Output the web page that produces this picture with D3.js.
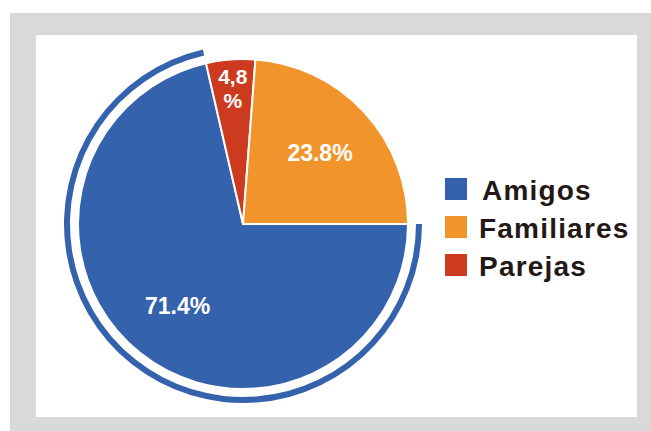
<!DOCTYPE html>
<html>
<head>
<meta charset="utf-8">
<script src="https://cdn.jsdelivr.net/npm/d3@7"></script>
<style>
    body { margin: 0; background: #fff; }
    text { font-family: "Liberation Sans", Arial, sans-serif; }
</style>
</head>
<body>
<div id="chart"></div>
<script>
    const categories = ['Amigos', 'Familiares', 'Parejas'];
    const values = [71.4, 23.8, 4.8];
    const labels = ['71.4%', '23.8%', '4,8\n%'];
    const colors = ['#3462ad', '#f1942c', '#cc3b20'];
    // order the slices go round the pie (clockwise from 3 o'clock)
    const pieOrder = [0, 2, 1];

    const width = 651, height = 431;

    const svg = d3.select('#chart')
        .append('svg')
        .attr('width', width)
        .attr('height', height);

    // grey frame and white panel
    svg.append('rect')
        .attr('x', 10).attr('y', 13)
        .attr('width', width - 10).attr('height', height - 13)
        .attr('fill', '#d9d9d9');
    svg.append('rect')
        .attr('x', 36).attr('y', 35)
        .attr('width', 601).attr('height', 382)
        .attr('fill', '#fff');

    const cx = 243, cy = 224, r = 165;

    const data = pieOrder.map(i => ({i: i, value: values[i]}));

    const pie = d3.pie()
        .sort(null)
        .value(d => d.value)
        .startAngle(Math.PI / 2)
        .endAngle(Math.PI / 2 + 2 * Math.PI);

    const arcs = pie(data);

    const g = svg.append('g')
        .attr('transform', `translate(${cx},${cy})`);

    const arc = d3.arc().innerRadius(0).outerRadius(r);

    g.selectAll('path.slice')
        .data(arcs)
        .enter().append('path')
        .attr('class', 'slice')
        .attr('d', arc)
        .attr('fill', d => colors[d.data.i])
        .attr('stroke', '#fff')
        .attr('stroke-width', 2)
        .attr('stroke-linejoin', 'round');

    // outer ring around the biggest slice
    const ring = d3.arc().innerRadius(173).outerRadius(179);
    g.append('path')
        .attr('d', ring(arcs.find(d => d.data.i === 0)))
        .attr('fill', colors[0]);

    // slice labels
    const labelArc = d3.arc().innerRadius(105).outerRadius(105);
    const smallArc = d3.arc().innerRadius(136).outerRadius(136);

    arcs.forEach(d => {
        const small = d.value < 10;
        const [x, y] = (small ? smallArc : labelArc).centroid(d);
        const lines = labels[d.data.i].split('\n');
        const fs = small ? 21 : 23;
        const lh = 24;
        const t = g.append('text')
            .attr('text-anchor', 'middle')
            .attr('fill', '#fff')
            .attr('font-size', fs)
            .attr('font-weight', 'bold');
        lines.forEach((s, k) => {
            t.append('tspan')
                .attr('x', x)
                .attr('y', y + (k - (lines.length - 1) / 2) * lh)
                .attr('dy', '0.35em')
                .text(s);
        });
    });

    // legend
    const legend = svg.append('g')
        .attr('transform', 'translate(445,178)');

    const item = legend.selectAll('g')
        .data(categories)
        .enter().append('g')
        .attr('transform', (d, i) => `translate(0,${i * 38})`);

    item.append('rect')
        .attr('width', 22)
        .attr('height', 22)
        .attr('fill', (d, i) => colors[i]);

    item.append('text')
        .attr('x', (d, i) => i === 0 ? 37 : 34)
        .attr('y', 22)
        .attr('font-size', 28)
        .attr('font-weight', 'bold')
        .attr('letter-spacing', 1.2)
        .attr('fill', '#231815')
        .text(d => d);
</script>
</body>
</html>
